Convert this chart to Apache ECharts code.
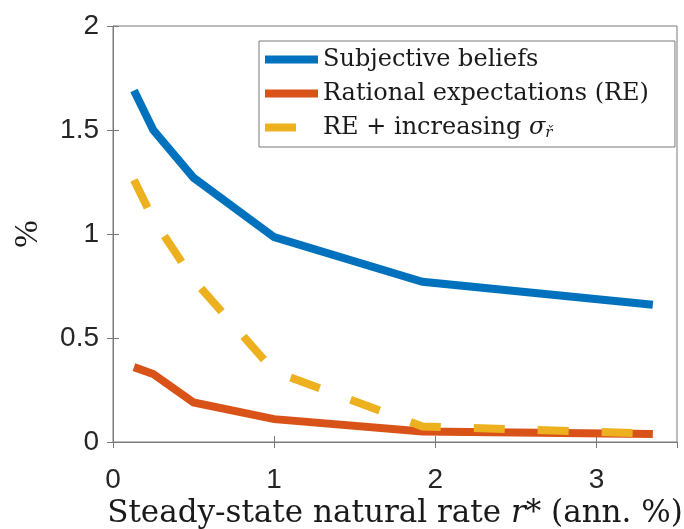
<!DOCTYPE html>
<html>
<head>
<meta charset="utf-8">
<script src="https://cdn.jsdelivr.net/npm/echarts@6/dist/echarts.min.js"></script>
<style>
  html, body { margin: 0; padding: 0; background: #fff; }
  #main { width: 684px; height: 529px; }
</style>
</head>
<body>
<div id="main"></div>
<script>
// steady-state r* (ann. %)
var rStar = [0.13, 0.25, 0.5, 1.0, 1.92, 3.35];
var seriesNames = ['Subjective beliefs', 'Rational expectations (RE)', 'RE + increasing σ'];
var subjective = [1.69, 1.50, 1.27, 0.985, 0.77, 0.66];
var rational = [0.36, 0.327, 0.19, 0.11, 0.05, 0.038];
var reSigma = [1.26, 1.07, 0.78, 0.34, 0.075, 0.04];
var xTicks = [0, 1, 2, 3];
var yTicks = [0, 0.5, 1, 1.5, 2];

function pairs(xs, ys) {
    var out = [];
    for (var i = 0; i < xs.length; i++) out.push([xs[i], ys[i]]);
    return out;
}

var axisGray = '#7a7a7a';
var tickFont = 'Liberation Sans';
var serif = 'DejaVu Serif';
var dash = [31, 33];

var myChart = echarts.init(document.getElementById('main'));

myChart.setOption({
    animation: false,
    backgroundColor: '#fff',
    grid: {
        left: 113, right: 7, top: 26, bottom: 87,
        outerBoundsMode: 'none',
        show: true, borderColor: axisGray, borderWidth: 1
    },
    legend: {
        orient: 'vertical',
        left: 259,
        top: 41,
        padding: [5, 26, 6, 2],
        itemGap: 7,
        itemWidth: 53,
        itemHeight: 14,
        backgroundColor: '#fff',
        borderColor: axisGray,
        borderWidth: 1,
        itemStyle: {opacity: 0},
        data: [
            {name: seriesNames[0], lineStyle: {width: 8, type: 'solid', cap: 'butt'}},
            {name: seriesNames[1], lineStyle: {width: 8, type: 'solid', cap: 'butt'}},
            {name: seriesNames[2], lineStyle: {width: 8, type: dash, cap: 'butt'}}
        ],
        formatter: function (name) {
            if (name === seriesNames[2]) return '{t|RE + increasing }{s|σ}{sub|ř}';
            return '{t|' + name + '}';
        },
        textStyle: {
            color: '#1a1a1a',
            fontFamily: serif,
            fontSize: 24,
            lineHeight: 27,
            rich: {
                t: {fontFamily: serif, fontSize: 24, lineHeight: 27, color: '#1a1a1a'},
                s: {fontFamily: serif, fontStyle: 'italic', fontSize: 24, lineHeight: 27, color: '#1a1a1a'},
                sub: {fontFamily: serif, fontStyle: 'italic', fontSize: 15, lineHeight: 27, verticalAlign: 'bottom', color: '#1a1a1a'}
            }
        }
    },
    xAxis: [
        {
            type: 'value',
            min: 0,
            max: 3.5,
            interval: 1,
            name: '{n|Steady-state natural rate }{i|r}{n|* (ann. %)}',
            nameLocation: 'middle',
            nameGap: 49,
            nameTextStyle: {
                rich: {
                    n: {fontFamily: serif, fontSize: 31, color: '#1a1a1a'},
                    i: {fontFamily: serif, fontStyle: 'italic', fontSize: 31, color: '#1a1a1a'}
                }
            },
            axisLine: {show: true, lineStyle: {color: axisGray, width: 1}},
            axisTick: {show: true, inside: true, length: 6, lineStyle: {color: axisGray}},
            axisLabel: {
                showMaxLabel: false,
                margin: 24,
                fontFamily: tickFont,
                fontSize: 28,
                color: '#262626',
                formatter: function (v) { return xTicks.indexOf(v) >= 0 ? String(v) : ''; }
            },
            splitLine: {show: false}
        },
        {
            type: 'value',
            position: 'top',
            min: 0,
            max: 3.5,
            interval: 1,
            axisLine: {show: true, lineStyle: {color: axisGray, width: 1}},
            axisTick: {show: true, inside: true, length: 6, lineStyle: {color: axisGray}},
            axisLabel: {show: false},
            splitLine: {show: false}
        }
    ],
    yAxis: [
        {
            type: 'value',
            min: 0,
            max: 2,
            interval: 0.5,
            name: '%',
            nameLocation: 'middle',
            nameRotate: 90,
            nameGap: 68,
            nameTextStyle: {fontFamily: 'Liberation Serif', fontSize: 33, color: '#1a1a1a'},
            axisLine: {show: true, lineStyle: {color: axisGray, width: 1}},
            axisTick: {show: true, inside: true, length: 6, lineStyle: {color: axisGray}},
            axisLabel: {
                margin: 14,
                fontFamily: tickFont,
                fontSize: 28,
                color: '#262626',
                verticalAlign: 'middle',
                padding: [9, 0, 0, 0],
                formatter: function (v) { return yTicks.indexOf(v) >= 0 ? String(v) : ''; }
            },
            splitLine: {show: false}
        },
        {
            type: 'value',
            position: 'right',
            min: 0,
            max: 2,
            interval: 0.5,
            axisLine: {show: true, lineStyle: {color: axisGray, width: 1}},
            axisTick: {show: true, inside: true, length: 6, lineStyle: {color: axisGray}},
            axisLabel: {show: false},
            splitLine: {show: false}
        }
    ],
    series: [
        {
            name: seriesNames[0],
            type: 'line',
            symbol: 'none',
            color: '#0072BD',
            lineStyle: {width: 8, color: '#0072BD', cap: 'butt', join: 'miter'},
            data: pairs(rStar, subjective),
            z: 2
        },
        {
            name: seriesNames[1],
            type: 'line',
            symbol: 'none',
            color: '#D95319',
            lineStyle: {width: 8, color: '#D95319', cap: 'butt', join: 'miter'},
            data: pairs(rStar, rational),
            z: 3
        },
        {
            name: seriesNames[2],
            type: 'line',
            symbol: 'none',
            color: '#EDB120',
            lineStyle: {width: 8, color: '#EDB120', type: dash, cap: 'butt', join: 'miter'},
            data: pairs(rStar, reSigma),
            z: 4
        },
        {
            // empty series so the top and right axes get drawn
            type: 'line',
            xAxisIndex: 1,
            yAxisIndex: 1,
            data: [],
            silent: true
        }
    ]
});
</script>
</body>
</html>
